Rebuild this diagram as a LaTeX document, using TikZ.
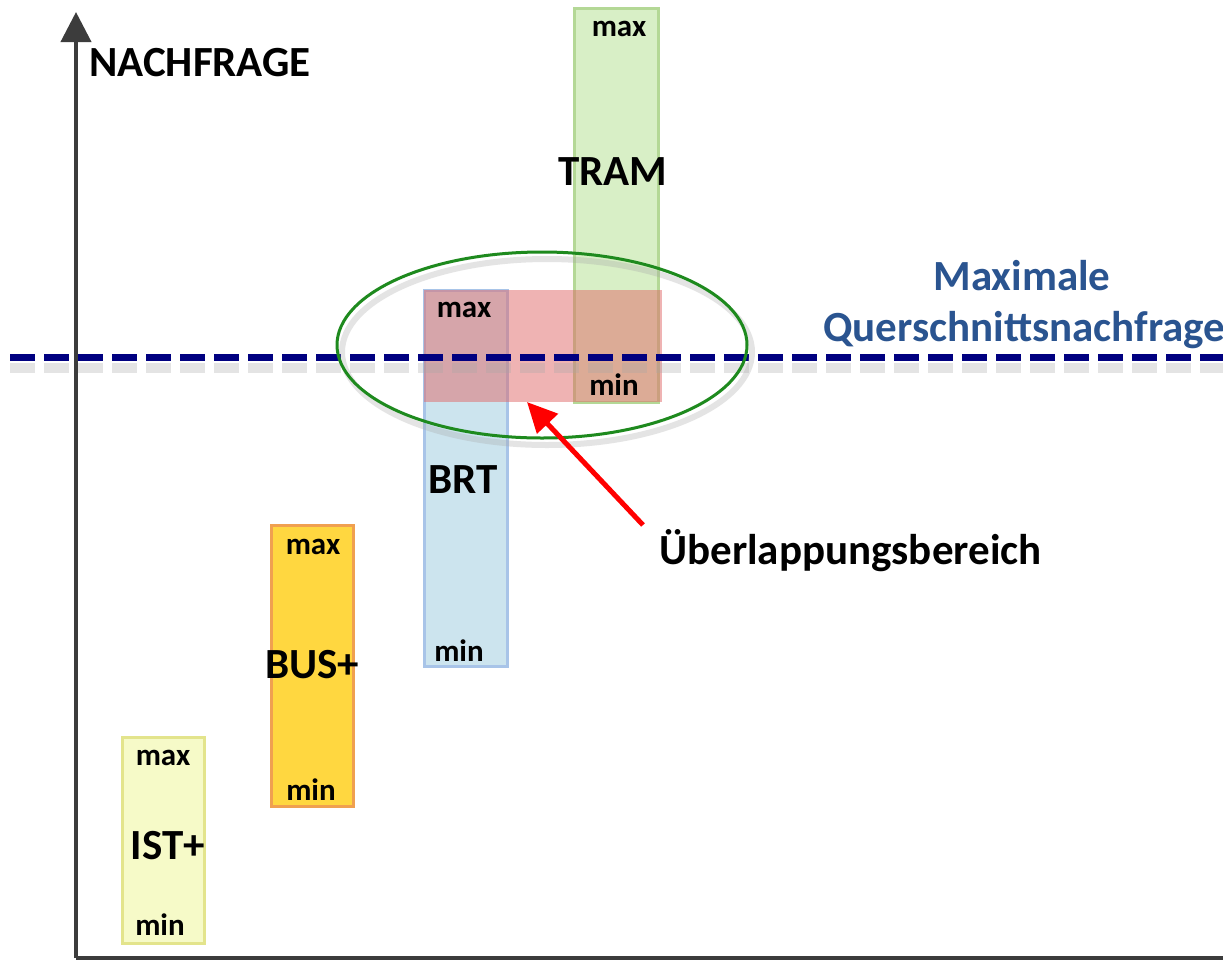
\documentclass[tikz,border=0pt]{standalone}
\usepackage{fontspec}
\setmainfont{Carlito}
\usetikzlibrary{arrows.meta}
\definecolor{axisgray}{HTML}{3C3C3C}
\definecolor{istfill}{HTML}{F6FAC8}
\definecolor{istdraw}{HTML}{E3E48C}
\definecolor{busfill}{HTML}{FFD740}
\definecolor{busdraw}{HTML}{F0A050}
\definecolor{brtfill}{HTML}{CCE4EE}
\definecolor{brtdraw}{HTML}{A8C4E8}
\definecolor{tramfill}{HTML}{D8EFC6}
\definecolor{tramdraw}{HTML}{B4D896}
\definecolor{overfill}{HTML}{E06868}
\definecolor{navyline}{HTML}{000080}
\definecolor{ellgreen}{HTML}{1E8A1E}
\definecolor{qtext}{HTML}{2A5490}
\tikzset{
  bar/.style={draw, line width=3pt, inner sep=0pt},
  small/.style={font=\fontsize{31}{34}\selectfont\bfseries, inner sep=0pt},
  big/.style={font=\fontsize{43}{48}\selectfont\bfseries, inner sep=0pt},
  axisline/.style={draw=axisgray, line width=4pt},
  softshadow/.style={black!35, opacity=0.3},
}
\begin{document}
\begin{tikzpicture}[x=1pt,y=-1pt]
\useasboundingbox (0,0) rectangle (1223,962);
\fill[white] (0,0) rectangle (1223,962);
% axes
\coordinate (origin) at (76,958);
\coordinate (ytip) at (76,12);
\coordinate (xend) at (1230,958);
\draw[axisline, -{Triangle[length=30pt,width=30pt]}] (origin) -- (ytip);
\draw[axisline] (origin) -- (xend);
\node[big, anchor=west] (nachfrage) at (89,63) {NACHFRAGE};
% bars
\node[bar, fill=istfill, draw=istdraw, minimum width=82pt, minimum height=206pt] (ist) at (163,840) {};
\node[bar, fill=busfill, draw=busdraw, minimum width=82pt, minimum height=281pt] (bus) at (312,665.5) {};
\node[bar, fill=brtfill, draw=brtdraw, minimum width=83pt, minimum height=376pt] (brt) at (465.5,478) {};
\node[bar, fill=tramfill, draw=tramdraw, minimum width=84pt, minimum height=394pt] (tram) at (616,205) {};
% overlap
\node[fill=overfill, fill opacity=0.5, draw=none, minimum width=238pt, minimum height=112pt, inner sep=0pt] (overlap) at (543,346) {};
% labels
\node[small] (istmax) at (163,758) {max};
\node[big] (istlab) at (168,846) {IST+};
\node[small] (istmin) at (160,925) {min};
\node[small] (busmax) at (313,547) {max};
\node[big] (buslab) at (312,665) {BUS+};
\node[small] (busmin) at (311,790) {min};
\node[small] (brtmax) at (464,310) {max};
\node[big] (brtlab) at (463,480) {BRT};
\node[small] (brtmin) at (459,651) {min};
\node[small] (trammax) at (619,29) {max};
\node[big] (tramlab) at (613,172) {TRAM};
\node[small] (trammin) at (614,385) {min};
% dashed line with shadow
\coordinate (dl) at (10,357);
\coordinate (dr) at (1230,357);
\draw[softshadow, line width=10pt, dash pattern=on 25pt off 9pt] ([yshift=-11pt]dl) -- ([yshift=-11pt]dr);
\draw[navyline, line width=7pt, dash pattern=on 25pt off 9pt] (dl) -- (dr);
% ellipse with shadow
\draw[softshadow, line width=6pt] (547,352) ellipse [x radius=205pt, y radius=93pt];
\draw[ellgreen, line width=3pt] (542,345) ellipse [x radius=205pt, y radius=93pt];
% max. querschnittsnachfrage
\node[big, text=qtext] (maxim) at (1022,276) {Maximale};
\node[big, text=qtext, anchor=west] (quer) at (823,330) {Querschnittsnachfrage};
% overlap arrow
\node[big, anchor=west] (ueber) at (659,551) {Überlappungsbereich};
\coordinate (atail) at (643,525);
\coordinate (ahead) at (527,402);
\draw[red, line width=5pt, -{Triangle[length=30pt,width=28pt]}] (atail) -- (ahead);
\end{tikzpicture}
\end{document}
